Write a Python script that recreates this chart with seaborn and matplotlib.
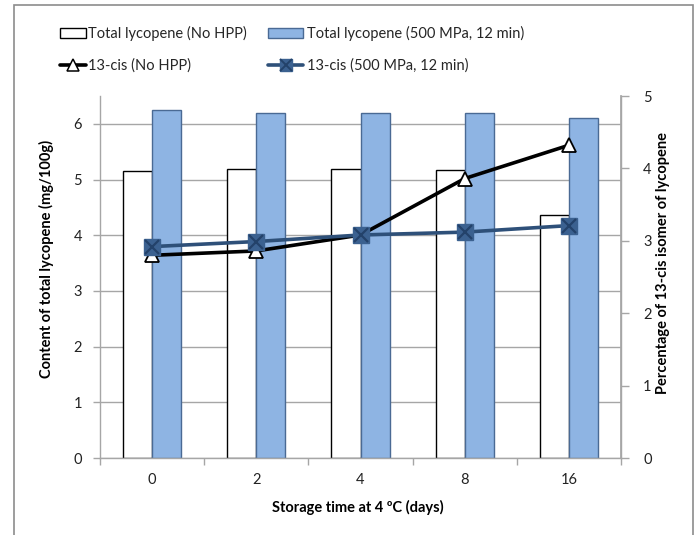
import numpy as np
import pandas as pd
import matplotlib
matplotlib.use("Agg")
import matplotlib.pyplot as plt
import seaborn as sns
from matplotlib.patches import Patch, Rectangle
from matplotlib.lines import Line2D
from matplotlib.legend_handler import HandlerTuple

# ---- data ----
days = ["0", "2", "4", "8", "16"]
total_no_hpp = [5.15, 5.19, 5.19, 5.17, 4.36]
total_hpp = [6.24, 6.20, 6.20, 6.19, 6.11]
cis_no_hpp = [2.80, 2.86, 3.08, 3.86, 4.32]
cis_hpp = [2.92, 2.99, 3.08, 3.12, 3.21]
lab_tot_no = "Total lycopene (No HPP)"
lab_tot_hpp = "Total lycopene (500 MPa, 12 min)"
lab_cis_no = "13-cis (No HPP)"
lab_cis_hpp = "13-cis (500 MPa, 12 min)"
left_ticks = [0, 1, 2, 3, 4, 5, 6]
right_ticks = [0, 1, 2, 3, 4, 5]

sns.set_theme(style="white")
plt.rcParams["font.family"] = ["Lato", "DejaVu Sans"]

BLUE_FILL = "#8EB4E3"
BLUE_EDGE = "#4A6A94"
LINE_BLUE = "#2E5079"
MARK_BLUE = "#3B6190"
GRID = "#A6A6A6"
FS = 10.5

fig = plt.figure(figsize=(6.98, 5.35), dpi=100)
W, H = 698, 535
x0, x1, ytop, ybot = 100, 621, 96, 458
ax = fig.add_axes([x0 / W, 1 - ybot / H, (x1 - x0) / W, (ybot - ytop) / H])

df = pd.DataFrame({
    "day": days * 2,
    "value": total_no_hpp + total_hpp,
    "treatment": [lab_tot_no] * len(days) + [lab_tot_hpp] * len(days),
})
sns.barplot(data=df, x="day", y="value", hue="treatment", order=days,
            hue_order=[lab_tot_no, lab_tot_hpp], palette=["white", BLUE_FILL],
            saturation=1, width=0.56, errorbar=None, edgecolor="black",
            linewidth=1.0, ax=ax, legend=False)
for p in ax.patches:
    fc = p.get_facecolor()
    if fc[0] < 0.9:
        p.set_edgecolor(BLUE_EDGE)

ax.set_ylim(0, 6.5)
ax.set_xlim(-0.5, len(days) - 0.5)
ax.set_yticks(left_ticks)
ax.grid(axis="y", color=GRID, lw=1.0)
ax.grid(axis="x", visible=False)
ax.set_axisbelow(True)

ax.spines["top"].set_visible(False)
for s in ["left", "bottom", "right"]:
    ax.spines[s].set_color(GRID)
    ax.spines[s].set_linewidth(1.0)

# category boundary ticks, labels at centers
ax.set_xticks(np.arange(len(days) + 1) - 0.5)
ax.set_xticklabels([])
ax.set_xticks(np.arange(len(days)), minor=True)
ax.set_xticklabels(days, minor=True)
ax.tick_params(axis="x", which="major", bottom=True, length=5, width=1, color=GRID)
ax.tick_params(axis="x", which="minor", bottom=True, length=0, pad=11,
               labelsize=FS, labelcolor="#222222")
ax.tick_params(axis="y", left=True, length=5, width=1, color=GRID, pad=8,
               labelsize=FS, labelcolor="#222222")

ax.set_xlabel("Storage time at 4 ºC (days)", fontsize=FS, fontweight="bold",
              color="black")
ax.xaxis.set_label_coords((358 - x0) / (x1 - x0), -(507 - ybot) / (ybot - ytop))
ax.xaxis.label.set_va("center")
ax.set_ylabel("Content of total lycopene (mg/100g)", fontsize=FS,
              fontweight="bold", color="black")
ax.yaxis.label.set_va("center")
ax.yaxis.set_label_coords((46 - x0) / (x1 - x0), 0.55)

# ---- secondary axis with lines ----
ax2 = ax.twinx()
pos = np.arange(len(days))
sns.lineplot(x=pos, y=cis_no_hpp, ax=ax2, color="black", linewidth=2.6,
             marker="^", markersize=10, markerfacecolor="white",
             markeredgecolor="black", markeredgewidth=1.3, zorder=3)
sns.lineplot(x=pos, y=cis_hpp, ax=ax2, color=LINE_BLUE, linewidth=2.6,
             marker="s", markersize=11, markerfacecolor=MARK_BLUE,
             markeredgecolor=MARK_BLUE, markeredgewidth=1.0, zorder=4)
ax2.plot(pos, cis_hpp, ls="none", marker="x", markersize=10,
         markeredgecolor="#23426A", markeredgewidth=1.6, zorder=5)
ax2.set_ylim(0, 5)
ax2.set_yticks(right_ticks)
ax2.grid(False)
for s in ["top", "left", "bottom"]:
    ax2.spines[s].set_visible(False)
ax2.spines["right"].set_color(GRID)
ax2.tick_params(axis="y", right=True, length=6, width=1, color=GRID, pad=10,
                labelsize=FS, labelcolor="#222222")
ax2.set_ylabel("Percentage of 13-cis isomer of lycopene", fontsize=FS,
               fontweight="bold", color="black", rotation=90)
ax2.yaxis.label.set_va("center")
ax2.yaxis.set_label_coords((663 - x0) / (x1 - x0), (ybot - 263) / (ybot - ytop))

# ---- legends ----
h_white = Patch(facecolor="white", edgecolor="black", linewidth=1.0)
h_blue = Patch(facecolor=BLUE_FILL, edgecolor=BLUE_EDGE, linewidth=1.0)
h_l1 = Line2D([], [], color="black", lw=2.6, marker="^", markersize=8,
              markerfacecolor="white", markeredgecolor="black", markeredgewidth=1.1)
h_l2a = Line2D([], [], color=LINE_BLUE, lw=2.6, marker="s", markersize=9,
               markerfacecolor=MARK_BLUE, markeredgecolor=MARK_BLUE)
h_l2b = Line2D([], [], ls="none", marker="x", markersize=8,
               markeredgecolor="#23426A", markeredgewidth=1.4)

leg1 = fig.legend(handles=[h_white, h_l1], labels=[lab_tot_no, lab_cis_no],
                  loc="upper left", bbox_to_anchor=(60 / W, 1 - 26 / H),
                  frameon=False, fontsize=FS, handlelength=1.8,
                  handletextpad=0.1, labelspacing=1.2, borderpad=0,
                  borderaxespad=0)
leg2 = fig.legend(handles=[h_blue, (h_l2a, h_l2b)], labels=[lab_tot_hpp, lab_cis_hpp],
                  loc="upper left", bbox_to_anchor=(268 / W, 1 - 26 / H),
                  frameon=False, fontsize=FS, handlelength=2.4,
                  handletextpad=0.3, labelspacing=1.2, borderpad=0,
                  borderaxespad=0, handler_map={tuple: HandlerTuple(ndivide=1)})

# outer frame
fig.add_artist(Rectangle((14 / W, -0.05), (693 - 14) / W, 1.05 - 5 / H,
                         transform=fig.transFigure, fill=False,
                         edgecolor="#8C8C8C", linewidth=1.2, clip_on=False))

fig.savefig("out.png", dpi=100)
